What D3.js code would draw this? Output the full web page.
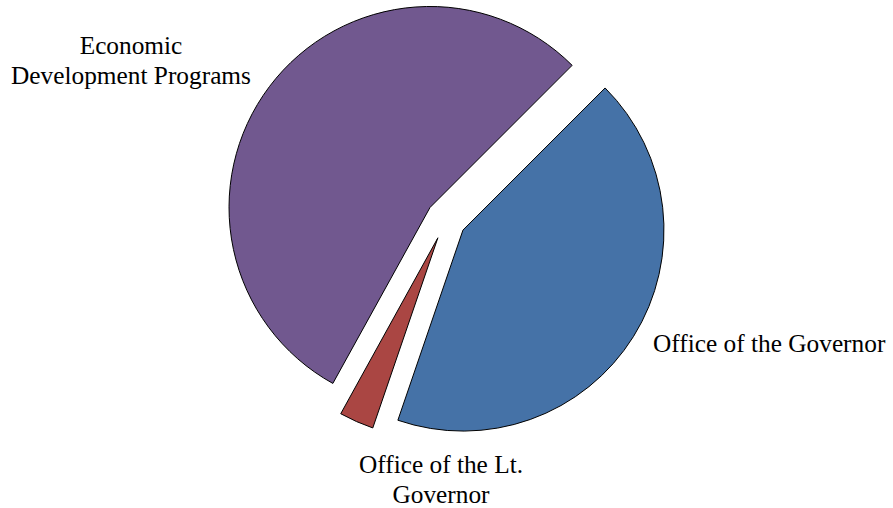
<!DOCTYPE html>
<html><head><meta charset="utf-8">
<script src="https://cdn.jsdelivr.net/npm/d3@7"></script>
<style>body{margin:0;background:#fff}svg{display:block}</style>
</head><body>
<svg id="c" width="893" height="508"></svg>
<script>
const categories = ["Office of the Governor", "Office of the Lt. Governor", "Economic Development Programs"];
const values = [42.75, 2.78, 54.47];
const colors = ["#4572A7", "#AA4643", "#71588F"];
const labelLines = [["Office of the Governor"], ["Office of the Lt.", "Governor"], ["Economic", "Development Programs"]];

const svg = d3.select("#c");
const cx = 446, cy = 219.5, R = 201, explode = 20;
const pie = d3.pie().sort(null).value(d => d)
  .startAngle(Math.PI / 4).endAngle(Math.PI / 4 + 2 * Math.PI);
const arcs = pie(values);
const arc = d3.arc().innerRadius(0).outerRadius(R);
const g = svg.append("g").attr("transform", `translate(${cx},${cy})`);
g.selectAll("path").data(arcs).enter().append("path")
  .attr("d", arc)
  .attr("fill", (d, i) => colors[i])
  .attr("stroke", "#000").attr("stroke-width", 1).attr("stroke-linejoin", "miter")
  .attr("transform", d => {
    const m = (d.startAngle + d.endAngle) / 2;
    return `translate(${explode * Math.sin(m)},${-explode * Math.cos(m)})`;
  });

// label layout (x centre/anchor, first baseline)
const labelPos = [
  {x: 653, y: 352, anchor: "start"},
  {x: 441, y: 473, anchor: "middle"},
  {x: 131, y: 54, anchor: "middle"}
];
const lh = 29.5;
labelLines.forEach((lines, i) => {
  const t = svg.append("text")
    .attr("font-family", "'Liberation Serif','Times New Roman',serif")
    .attr("font-size", 25.33).attr("fill", "#000")
    .attr("text-anchor", labelPos[i].anchor);
  lines.forEach((ln, j) => {
    t.append("tspan").attr("x", labelPos[i].x).attr("y", labelPos[i].y + j * lh).text(ln);
  });
});
</script>
</body></html>
